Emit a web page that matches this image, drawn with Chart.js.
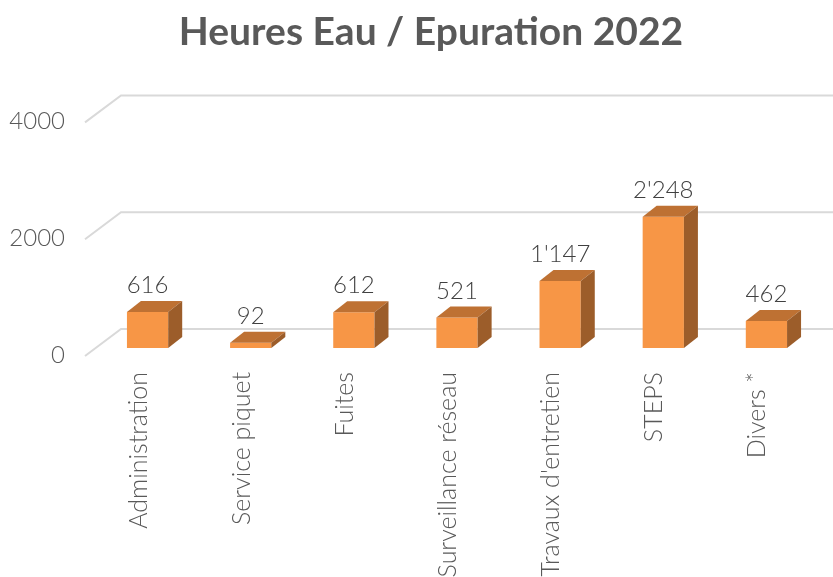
<!DOCTYPE html>
<html lang="fr">
<head>
  <meta charset="UTF-8">
  <title>Heures Eau / Epuration 2022</title>
  <script src="https://cdn.jsdelivr.net/npm/chart.js"></script>
  <style>
    html, body { margin: 0; padding: 0; background: #fff; }
    #wrap { width: 833px; height: 577px; }
  </style>
</head>
<body>
<div id="wrap"><canvas id="graphique" width="833" height="577"></canvas></div>
<script>
const titre = 'Heures Eau / Epuration 2022';
const categories = ['Administration', 'Service piquet', 'Fuites', 'Surveillance réseau', "Travaux d'entretien", 'STEPS', 'Divers *'];
const heures = [616, 92, 612, 521, 1147, 2248, 462];
const yTicks = [0, 2000, 4000];

const gris = '#595959';
const police = "Lato, 'Open Sans', sans-serif";
// décalage de profondeur (effet 3D)
const DX = 14, DY = -11;

const fmt = v => String(v).replace(/\B(?=(\d{3})+(?!\d))/g, "'");

// titre centré sur le graphique complet (comme Excel)
const titreExcel = {
  id: 'titreExcel',
  afterDraw(chart) {
    const { ctx } = chart;
    ctx.save();
    ctx.fillStyle = gris;
    ctx.font = 'bold 39px ' + police;
    ctx.textAlign = 'center';
    ctx.textBaseline = 'alphabetic';
    ctx.fillText(titre, 431, 45);
    ctx.restore();
  }
};

// quadrillage "3D" : segment oblique + ligne du fond
const grille3d = {
  id: 'grille3d',
  beforeDatasetsDraw(chart) {
    const { ctx, scales: { y } } = chart;
    ctx.save();
    ctx.strokeStyle = '#D9D9D9';
    ctx.lineWidth = 2;
    yTicks.forEach(v => {
      const yp = y.getPixelForValue(v);
      ctx.beginPath();
      ctx.moveTo(85, yp + 8);
      ctx.lineTo(121, yp - 19);
      ctx.lineTo(833, yp - 19);
      ctx.stroke();
    });
    ctx.restore();
  }
};

// faces du dessus et de côté + étiquettes de valeurs
const barres3d = {
  id: 'barres3d',
  afterDatasetsDraw(chart) {
    const { ctx } = chart;
    const meta = chart.getDatasetMeta(0);
    ctx.save();
    meta.data.forEach((bar, i) => {
      const l = bar.x - bar.width / 2, r = bar.x + bar.width / 2;
      const t = bar.y, b = bar.base;
      ctx.fillStyle = '#BE7133';
      ctx.beginPath();
      ctx.moveTo(l, t); ctx.lineTo(r, t); ctx.lineTo(r + DX, t + DY); ctx.lineTo(l + DX, t + DY);
      ctx.closePath(); ctx.fill();
      ctx.fillStyle = '#9C5D2A';
      ctx.beginPath();
      ctx.moveTo(r, t); ctx.lineTo(r + DX, t + DY); ctx.lineTo(r + DX, b + DY); ctx.lineTo(r, b);
      ctx.closePath(); ctx.fill();

      ctx.fillStyle = '#404040';
      ctx.font = '300 24px ' + police;
      ctx.textAlign = 'center';
      ctx.textBaseline = 'alphabetic';
      ctx.fillText(fmt(heures[i]), bar.x, t - 19);
    });
    ctx.restore();
  }
};

new Chart(document.getElementById('graphique'), {
  type: 'bar',
  data: {
    labels: categories,
    datasets: [{
      data: heures,
      backgroundColor: '#F79646',
      borderWidth: 0,
      barPercentage: 0.4,
      categoryPercentage: 1
    }]
  },
  options: {
    responsive: false,
    animation: false,
    layout: { padding: { left: 0, right: 15, top: 114.4, bottom: 0 } },
    plugins: {
      legend: { display: false },
      tooltip: { enabled: false },
      title: { display: false }
    },
    scales: {
      x: {
        grid: { display: false, drawTicks: false },
        border: { display: false },
        afterFit: s => { s.height = 229; },
        ticks: {
          color: gris,
          font: { family: police, size: 25, weight: '300' },
          minRotation: 90, maxRotation: 90,
          padding: 24,
          labelOffset: -9,
          autoSkip: false
        }
      },
      y: {
        min: 0, max: 4000,
        grid: { display: false, drawTicks: false },
        border: { display: false },
        afterFit: s => { s.width = 96; },
        ticks: {
          stepSize: 2000,
          color: gris,
          font: { family: police, size: 24, weight: '300' },
          padding: 31,
          labelOffset: 7,
          callback: v => String(v)
        }
      }
    }
  },
  plugins: [grille3d, barres3d, titreExcel]
});
</script>
</body>
</html>
